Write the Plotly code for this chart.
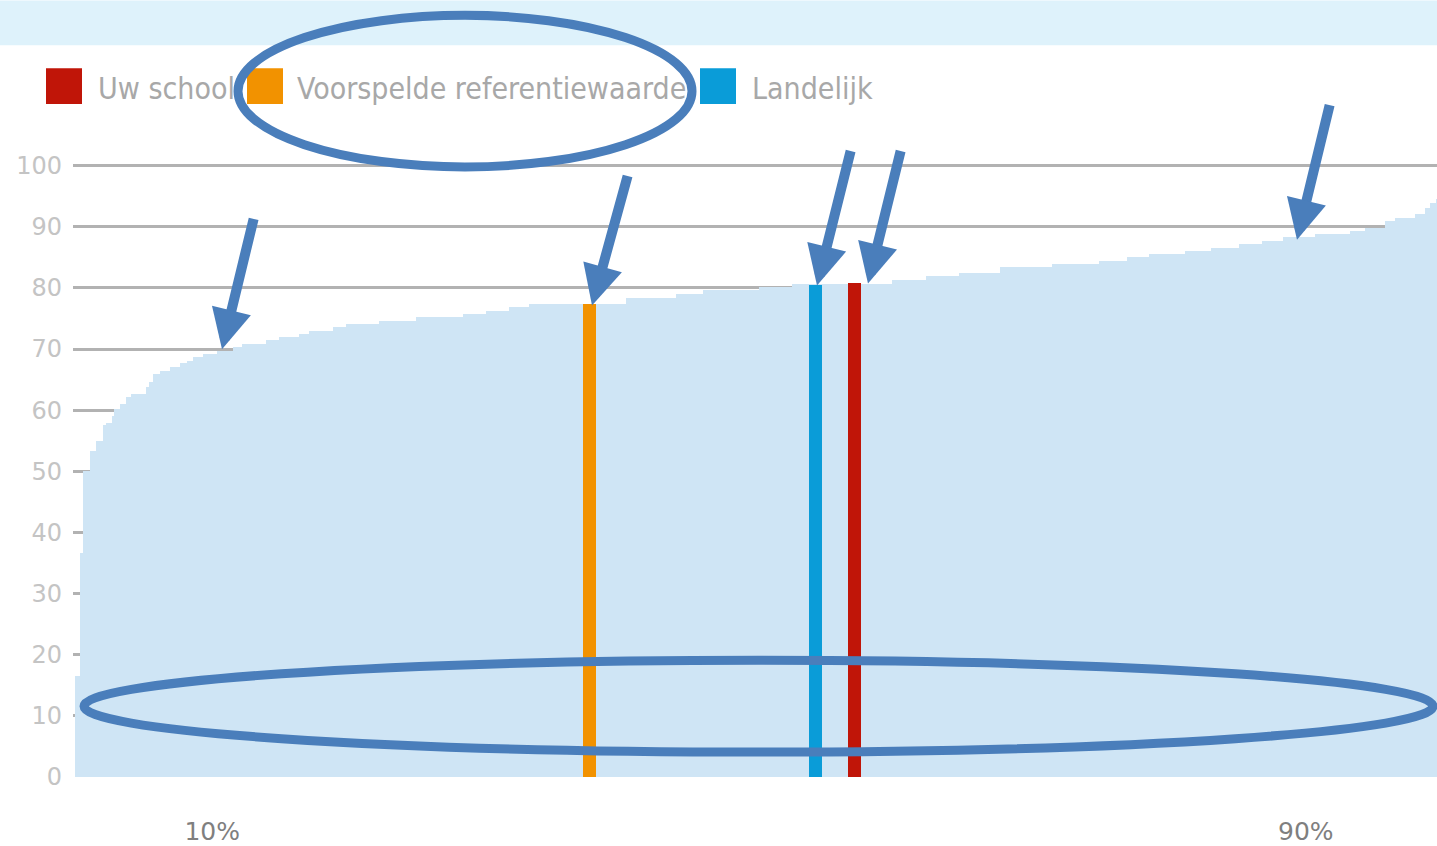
import plotly.graph_objects as go

# ---------------- data ----------------
# sorted distribution of school scores: percentile of schools (step start) and score
percentiel = [0.0, 0.33, 0.55, 1.06, 1.5, 1.99, 2.23, 2.72, 2.82, 3.26, 3.69, 4.06, 5.16, 5.38,
              5.67, 6.18, 6.91, 7.64, 8.16, 8.6, 9.33, 10.35, 11.52, 12.18, 13.94, 14.89, 16.35,
              17.08, 18.84, 19.79, 22.2, 24.9, 28.35, 30.03, 31.71, 33.17, 40.27, 43.93, 45.9,
              50.0, 52.4, 56.1, 59.7, 62.2, 64.6, 67.6, 71.4, 74.9, 76.9, 78.5, 81.2, 83.1, 85.1,
              86.8, 88.3, 90.7, 93.2, 94.3, 95.8, 96.5, 98.0, 98.7, 99.1, 99.5, 100.0]
scores = [16.5, 36.6, 50.1, 53.4, 55.0, 57.5, 57.9, 59.1, 60.2, 61.0, 62.2, 62.7, 63.8, 64.6,
          65.9, 66.4, 67.1, 67.7, 68.1, 68.7, 69.2, 69.7, 70.4, 70.9, 71.4, 72.0, 72.5,
          72.9, 73.6, 74.1, 74.6, 75.3, 75.7, 76.2, 76.9, 77.3, 78.4, 79.0, 79.6,
          80.2, 80.6, 80.7, 81.3, 81.9, 82.4, 83.4, 83.9, 84.4, 85.0, 85.5, 86.0, 86.6, 87.2,
          87.7, 88.3, 88.8, 89.3, 89.8, 90.9, 91.5, 92.0, 93.1, 93.9, 94.5, 94.5]

reeks = ["Uw school", "Voorspelde referentiewaarde", "Landelijk"]
reeks_percentiel = [57.0, 37.6, 54.1]
reeks_score = [80.8, 77.4, 80.4]
reeks_kleur = ["#c01508", "#f29200", "#0a9cd8"]

x_tickvals = [10, 90]
x_ticktext = ["10%", "90%"]
y_tickvals = [0, 10, 20, 30, 40, 50, 60, 70, 80, 90, 100]

# ---------------- layout geometry ----------------
W, H = 1437, 846
ML, MR, MT, MB = 73, 0, 135, 67
PW, PH = W - ML - MR, H - MT - MB


def px(x):
    return (x - ML) / PW


def py(y):
    return (H - MB - y) / PH


fig = go.Figure()

# distribution as variable-width bars (one per step)
stap_mid = [(a + b) / 2 for a, b in zip(percentiel[:-1], percentiel[1:])]
stap_breedte = [b - a for a, b in zip(percentiel[:-1], percentiel[1:])]
fig.add_trace(go.Bar(
    x=stap_mid, y=scores[:-1], width=stap_breedte,
    marker=dict(color="#cfe5f5", line=dict(width=0)), hoverinfo="skip", showlegend=False))

for naam, p, s, k in zip(reeks, reeks_percentiel, reeks_score, reeks_kleur):
    fig.add_trace(go.Bar(x=[p], y=[s], width=0.95, marker=dict(color=k, line=dict(width=0)),
                         name=naam, showlegend=False))

shapes = []
annotations = []

# header band
shapes.append(dict(type="rect", xref="paper", yref="paper", x0=px(0), x1=px(W), y0=py(45), y1=py(0),
                   fillcolor="#def2fb", line=dict(width=0), layer="below"))

# legend
leg_sq = [46, 247, 700]
leg_tx = [96, 295, 750]
for naam, k, sx, tx in zip(reeks, reeks_kleur, leg_sq, leg_tx):
    shapes.append(dict(type="rect", xref="paper", yref="paper", x0=px(sx), x1=px(sx + 36),
                       y0=py(104), y1=py(68), fillcolor=k, line=dict(width=0)))
    annotations.append(dict(text=naam, xref="paper", yref="paper", x=px(tx), y=py(88),
                            xanchor="left", yanchor="middle", showarrow=False,
                            font=dict(family="Liberation Sans Narrow, DejaVu Sans Condensed, sans-serif",
                                      size=30, color="#a8a8a8")))

# highlight ellipses
ell_col = "#4a7ebb"
shapes.append(dict(type="circle", xref="paper", yref="paper", x0=px(238), x1=px(692),
                   y0=py(167), y1=py(15), line=dict(color=ell_col, width=9), layer="above"))
shapes.append(dict(type="circle", xref="paper", yref="paper", x0=px(84), x1=px(1433),
                   y0=py(754), y1=py(662), line=dict(color=ell_col, width=9), layer="above"))

# arrows (tail -> tip, in pixels)
arrows = [((254, 218), (222, 350)), ((628, 175), (592, 306)), ((851, 150), (817, 286)),
          ((901, 150), (868, 284)), ((1330, 104), (1297, 240))]
for (tx0, ty0), (tx1, ty1) in arrows:
    annotations.append(dict(text="", xref="paper", yref="paper", x=px(tx1), y=py(ty1),
                            ax=tx0 - tx1, ay=ty0 - ty1, showarrow=True, arrowhead=2,
                            arrowwidth=10, arrowsize=0.8, arrowcolor=ell_col, standoff=0))

fig.update_layout(
    width=W, height=H, margin=dict(l=ML, r=MR, t=MT, b=MB),
    paper_bgcolor="white", plot_bgcolor="white",
    showlegend=False, barmode="overlay", bargap=0,
    shapes=shapes, annotations=annotations,
    xaxis=dict(range=[-0.18, 99.6], showgrid=False, zeroline=False, showline=False,
               tickmode="array", tickvals=x_tickvals, ticktext=x_ticktext, ticks="",
               tickfont=dict(family="DejaVu Sans", size=25, color="#7f7f7f"),
               ticklabelstandoff=37),
    yaxis=dict(range=[0, 105], tickmode="array", tickvals=y_tickvals, showgrid=True,
               gridcolor="#b2b2b2", gridwidth=2.5, zeroline=False, showline=False, ticks="",
               tickfont=dict(family="DejaVu Sans", size=24, color="#c4c4c4"),
               ticklabelstandoff=10),
)

fig.write_html("out.html", config={"displayModeBar": False},
               post_script="document.body.style.margin='0';document.body.style.overflow='hidden';")
